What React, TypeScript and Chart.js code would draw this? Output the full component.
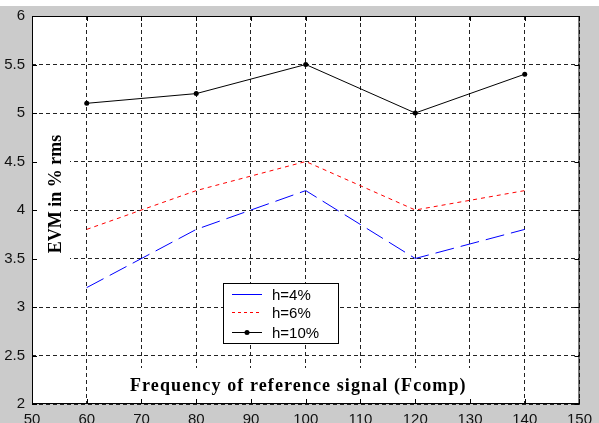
import React, { useEffect, useRef } from "react";
import { Chart, registerables } from "chart.js";

Chart.register(...registerables);

const frequencies = [60, 80, 100, 120, 140];
const evmH4 = [3.2, 3.8, 4.2, 3.5, 3.8];
const evmH6 = [3.8, 4.2, 4.5, 4.0, 4.2];
const evmH10 = [5.1, 5.2, 5.5, 5.0, 5.4];
const seriesLabels = ["h=4%", "h=6%", "h=10%"];
const xTitle = "Frequency of reference signal (Fcomp)";
const yTitle = "EVM in % rms";

const BG = "#cbcbcb";
const TICK_FONT = "15px 'Liberation Sans', Arial, sans-serif";
const TITLE_FONT = "bold 18px 'Liberation Serif', 'Times New Roman', serif";

const decorPlugin = {
  id: "decor",
  beforeDraw(chart: any) {
    const { ctx, width, height, chartArea: a } = chart;
    ctx.save();
    ctx.fillStyle = "#ffffff";
    ctx.fillRect(0, 0, width, height);
    ctx.fillStyle = BG;
    ctx.fillRect(0, 6, width, height - 6);
    ctx.fillStyle = "#ffffff";
    ctx.fillRect(a.left, a.top, a.right - a.left, a.bottom - a.top);
    ctx.restore();
  },
  beforeDatasetsDraw(chart: any) {
    const { ctx, chartArea: a } = chart;
    ctx.save();
    // white boxes behind titles
    ctx.fillStyle = "#ffffff";
    ctx.fillRect(a.left + 86, a.bottom - 36, 362, 36);
    ctx.fillRect(a.left + 1, a.top + 112, 37, 134);
    // titles
    ctx.fillStyle = "#000000";
    ctx.font = TITLE_FONT;
    (ctx as any).letterSpacing = "1.1px";
    ctx.textAlign = "left";
    ctx.textBaseline = "alphabetic";
    ctx.fillText(xTitle, a.left + 98, a.bottom - 13);
    (ctx as any).letterSpacing = "0px";
    ctx.translate(a.left + 29, a.top + 178);
    ctx.rotate(-Math.PI / 2);
    ctx.textAlign = "center";
    ctx.fillText(yTitle, 0, 0);
    ctx.restore();

    // frame + inner ticks
    ctx.save();
    ctx.strokeStyle = "#000000";
    ctx.lineWidth = 1;
    ctx.strokeRect(a.left + 0.5, a.top + 0.5, a.right - a.left - 1, a.bottom - a.top - 1);
    const xs = chart.scales.x;
    const ys = chart.scales.y;
    ctx.beginPath();
    xs.ticks.forEach((t: any) => {
      const px = Math.round(xs.getPixelForValue(t.value)) + 0.5;
      ctx.moveTo(px, a.bottom);
      ctx.lineTo(px, a.bottom - 5);
      ctx.moveTo(px, a.top);
      ctx.lineTo(px, a.top + 5);
    });
    ys.ticks.forEach((t: any) => {
      const py = Math.round(ys.getPixelForValue(t.value)) + 0.5;
      ctx.moveTo(a.left, py);
      ctx.lineTo(a.left + 5, py);
      ctx.moveTo(a.right, py);
      ctx.lineTo(a.right - 5, py);
    });
    ctx.stroke();
    ctx.restore();
  },
  afterDraw(chart: any) {
    const { ctx, chartArea: a } = chart;
    const bx = a.left + 191;
    const by = a.top + 267;
    const bw = 115;
    const bh = 60;
    ctx.save();
    ctx.fillStyle = "#ffffff";
    ctx.fillRect(bx, by, bw, bh);
    ctx.strokeStyle = "#000000";
    ctx.lineWidth = 1;
    ctx.strokeRect(bx + 0.5, by + 0.5, bw, bh);
    const rows = [11, 29, 49];
    const styles = [
      { color: "#0000ff", dash: [] as number[], marker: false },
      { color: "#ff0000", dash: [3, 3], marker: false },
      { color: "#000000", dash: [] as number[], marker: true },
    ];
    ctx.font = TICK_FONT;
    ctx.textAlign = "left";
    ctx.textBaseline = "middle";
    seriesLabels.forEach((lab, i) => {
      const y = by + rows[i] + 0.5;
      const s = styles[i];
      ctx.strokeStyle = s.color;
      ctx.setLineDash(s.dash);
      ctx.beginPath();
      ctx.moveTo(bx + 9, y);
      ctx.lineTo(bx + 39, y);
      ctx.stroke();
      ctx.setLineDash([]);
      if (s.marker) {
        ctx.fillStyle = s.color;
        ctx.beginPath();
        ctx.arc(bx + 24, y, 2.5, 0, Math.PI * 2);
        ctx.fill();
      }
      ctx.fillStyle = "#000000";
      ctx.fillText(lab, bx + 49, y + 1);
    });
    ctx.restore();
  },
};

export default function App() {
  const ref = useRef<HTMLCanvasElement | null>(null);
  useEffect(() => {
    document.body.style.margin = "0";
    if (!ref.current) return;
    const chart = new Chart(ref.current, {
      type: "line",
      data: {
        datasets: [
          {
            label: seriesLabels[0],
            data: frequencies.map((f, i) => ({ x: f, y: evmH4[i] })),
            borderColor: "#0000ff",
            borderWidth: 1,
            borderDash: [19, 7],
            pointRadius: 0,
            tension: 0,
          },
          {
            label: seriesLabels[1],
            data: frequencies.map((f, i) => ({ x: f, y: evmH6[i] })),
            borderColor: "#ff0000",
            borderWidth: 1,
            borderDash: [4, 4],
            pointRadius: 0,
            tension: 0,
          },
          {
            label: seriesLabels[2],
            data: frequencies.map((f, i) => ({ x: f, y: evmH10[i] })),
            borderColor: "#000000",
            borderWidth: 1,
            pointRadius: 2.5,
            pointBorderWidth: 0,
            pointBackgroundColor: "#000000",
            tension: 0,
          },
        ],
      },
      options: {
        animation: false,
        responsive: false,
        devicePixelRatio: 1,
        layout: { padding: { top: 16, right: 11, left: 0, bottom: 0 } },
        plugins: { legend: { display: false }, title: { display: false }, tooltip: { enabled: false } },
        scales: {
          x: {
            type: "linear",
            min: 50,
            max: 150,
            ticks: { stepSize: 10, color: "#111", font: { family: "'Liberation Sans', Arial, sans-serif", size: 15 }, padding: 7, maxRotation: 0, autoSkip: false },
            grid: { color: "#222", drawTicks: false, lineWidth: 1 },
            border: { display: false, dash: [4, 3] },
            afterFit: (s: any) => { s.height = 19; },
          },
          y: {
            type: "linear",
            min: 2,
            max: 6,
            ticks: { stepSize: 0.5, color: "#111", font: { family: "'Liberation Sans', Arial, sans-serif", size: 15 }, padding: 7, callback: (v: any) => String(Number(v)) },
            grid: { color: "#222", drawTicks: false, lineWidth: 1 },
            border: { display: false, dash: [4, 3] },
            afterFit: (s: any) => { s.width = 32; },
          },
        },
      },
      plugins: [decorPlugin],
    } as any);
    return () => chart.destroy();
  }, []);
  return (
    <div style={{ position: "absolute", left: 0, top: 0, width: 599, height: 423 }}>
      <canvas ref={ref} width={599} height={423} style={{ display: "block" }} />
    </div>
  );
}
